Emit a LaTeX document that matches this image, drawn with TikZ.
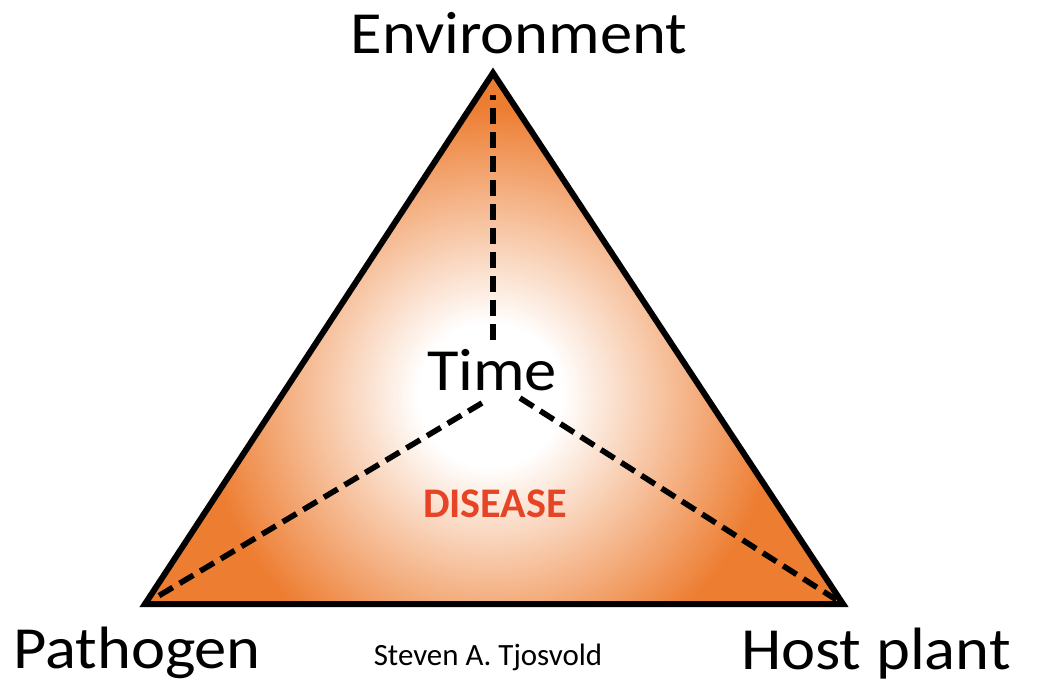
\documentclass[tikz,border=0pt]{standalone}
\usepackage{fontspec}
\setmainfont{Carlito}
\newfontfamily\widefont{Carlito}[FakeStretch=1.08]
\usepackage{xcolor}
\usetikzlibrary{positioning}
\definecolor{accentorange}{RGB}{237,125,49}
\definecolor{diseasered}{RGB}{229,68,38}
\pgfdeclareradialshading{glow}{\pgfpoint{0bp}{0bp}}{color(0bp)=(white); color(4.5bp)=(white); color(18bp)=(accentorange); color(50bp)=(accentorange)}

\begin{document}
\begin{tikzpicture}[x=0.025cm,y=-0.025cm,
    biglabel/.style={anchor=base, inner sep=0pt, font=\widefont\fontsize{42.5}{50}\selectfont},
    spoke/.style={line width=0.14cm, dash pattern=on 0.4cm off 0.2cm}
]
\useasboundingbox (0,0) rectangle (1043,684);

\coordinate (corner1) at (493,73);
\coordinate (corner2) at (145,604);
\coordinate (corner3) at (843,604);

% orange triangle, white in the middle
\begin{scope}
\clip (corner1) -- (corner2) -- (corner3) -- cycle;
\fill[accentorange] (0,0) rectangle (1043,684);
\shade[shading=glow] (490,395) circle (400);
\end{scope}

\coordinate (spoke1) at (493,340);
\coordinate (spoke2) at (482,403);
\coordinate (spoke3) at (520,398);

\draw[spoke, shorten >=0.55cm] (spoke1) -- (corner1);
\draw[spoke, shorten >=0.4cm] (spoke2) -- (corner2);
\draw[spoke, shorten >=0.2cm] (spoke3) -- (corner3);

\draw[line width=0.15cm, line join=miter] (corner1) -- (corner2) -- (corner3) -- cycle;

\node[biglabel] (environment) at (519,53) {Environment};
\node[biglabel] (pathogen) at (137,668) {Pathogen};
\node[biglabel] (host) at (876,669) {Host plant};
\node[biglabel] (time) at (492,390) {Time};

\node[anchor=base,
    inner sep=0pt,
    text=diseasered,
    font=\bfseries\fontsize{30}{36}\selectfont
] (disease) at (495,517) {DISEASE};

\node[anchor=base,
    inner sep=0pt,
    font=\fontsize{22}{26}\selectfont
] (author) at (488,665) {Steven A. Tjosvold};

\end{tikzpicture}
\end{document}
